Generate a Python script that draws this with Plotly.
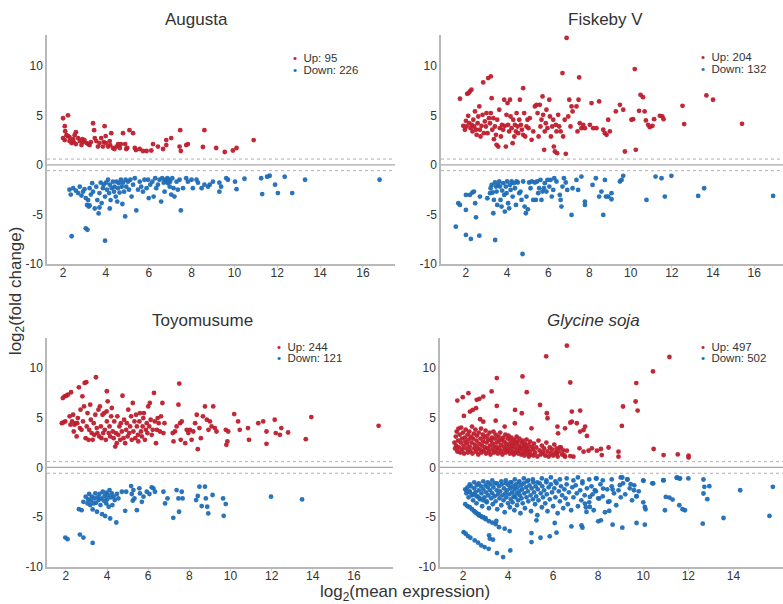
import plotly.graph_objects as go

# ---------------- data ----------------
PANEL_TITLES = ["Augusta", "Fiskeby V", "Toyomusume", "<i>Glycine soja</i>"]
UP_COUNTS = [95, 204, 244, 497]
DOWN_COUNTS = [226, 132, 121, 502]
X_TICKS = [
    [2, 4, 6, 8, 10, 12, 14, 16],
    [2, 4, 6, 8, 10, 12, 14, 16],
    [2, 4, 6, 8, 10, 12, 14, 16],
    [2, 4, 6, 8, 10, 12, 14],
]
Y_TICKS = [-10, -5, 0, 5, 10]
FC_CUTOFF = 0.585  # log2(1.5), dotted threshold lines

AUGUSTA_UP = [
    (2.0, 4.7), (2.23, 5.0), (2.08, 3.9), (2.1, 3.4), (2.16, 3.0), (2.0, 2.7), (2.08, 2.5),
    (2.23, 2.9), (2.3, 2.4), (2.4, 2.2), (2.47, 2.6), (2.54, 3.0), (2.6, 3.3), (2.7, 2.7),
    (2.78, 2.4), (2.86, 2.0), (2.93, 2.3), (3.0, 2.5), (3.1, 2.2), (3.17, 2.1), (3.24, 2.0),
    (3.4, 4.2), (3.45, 3.5), (3.48, 2.7), (3.55, 2.4), (3.63, 1.85), (3.7, 2.2), (3.78, 2.7),
    (3.86, 1.85), (3.94, 3.9), (3.99, 2.9), (4.0, 2.2), (4.1, 1.85), (4.18, 2.4), (4.25, 3.2),
    (4.33, 1.7), (4.4, 1.6), (4.5, 1.85), (4.57, 2.1), (4.65, 1.7), (4.8, 3.2), (4.9, 2.1),
    (4.95, 1.6), (5.1, 3.5), (5.27, 3.2), (5.35, 1.7), (5.58, 1.6), (5.73, 1.4), (5.9, 1.4),
    (6.12, 1.45), (6.2, 2.1), (6.43, 1.85), (6.67, 1.6), (6.82, 2.0), (6.82, 2.5), (7.05, 2.7),
    (7.44, 1.85), (7.47, 3.5), (7.5, 1.4), (7.75, 2.0), (7.83, 2.1), (8.53, 1.8), (8.6, 3.5),
    (9.15, 1.7), (9.55, 1.3), (9.93, 1.45), (10.1, 1.7), (10.9, 2.5),
    (2.3, 2.8), (2.5, 2.3), (2.6, 2.1), (2.9, 2.6), (3.3, 2.3), (3.9, 2.3), (4.2, 2.0),
    (4.7, 2.1), (5.0, 1.7), (5.4, 1.5),
]
AUGUSTA_DOWN = [
    (2.3, -2.5), (2.36, -3.0), (2.47, -2.35), (2.6, -2.6), (2.7, -2.85), (2.78, -2.2),
    (2.86, -3.1), (2.93, -2.7), (3.0, -2.45), (3.06, -3.35), (3.12, -4.05), (3.17, -3.55),
    (3.2, -4.2), (3.24, -2.35), (3.3, -3.0), (3.36, -1.85), (3.4, -2.7), (3.48, -4.4),
    (3.55, -2.2), (3.6, -3.55), (3.66, -4.9), (3.7, -2.85), (3.76, -1.8), (3.8, -3.85),
    (3.86, -2.35), (3.9, -2.0), (3.96, -3.2), (4.0, -1.8), (4.05, -2.5), (4.1, -1.5),
    (4.15, -2.85), (4.18, -2.0), (4.22, -3.55), (4.27, -2.35), (4.33, -1.7), (4.38, -2.7),
    (4.4, -2.2), (4.46, -3.2), (4.5, -1.7), (4.53, -3.7), (4.56, -2.35), (4.6, -1.85),
    (4.64, -2.8), (4.7, -1.5), (4.74, -2.2), (4.77, -3.95), (4.8, -1.8), (4.85, -2.7),
    (4.9, -5.2), (4.92, -1.5), (4.95, -2.2), (5.03, -1.7), (5.08, -2.5), (5.14, -1.5),
    (5.2, -3.2), (5.27, -2.0), (5.35, -1.35), (5.42, -4.6), (5.5, -2.5), (5.58, -1.7),
    (5.65, -2.2), (5.73, -2.7), (5.8, -1.5), (5.9, -2.35), (5.97, -1.5), (6.0, -3.35),
    (6.07, -2.0), (6.17, -1.7), (6.23, -3.2), (6.3, -1.35), (6.35, -2.35), (6.43, -2.0),
    (6.5, -1.5), (6.58, -3.7), (6.63, -1.35), (6.7, -1.8), (6.74, -2.7), (6.77, -1.5),
    (6.82, -1.7), (6.87, -1.35), (6.9, -1.85), (6.95, -1.5), (6.98, -2.2), (7.0, -1.7),
    (7.05, -3.0), (7.1, -1.35), (7.16, -2.35), (7.2, -3.2), (7.3, -1.7), (7.36, -2.5),
    (7.44, -1.5), (7.5, -4.6), (7.6, -2.35), (7.75, -1.35), (7.83, -1.7), (8.0, -1.5),
    (8.06, -2.35), (8.23, -1.5), (8.3, -1.8), (8.47, -2.35), (8.6, -2.0), (8.77, -2.2),
    (8.85, -2.0), (9.0, -1.7), (9.3, -1.8), (9.3, -2.7), (9.38, -2.2), (9.62, -1.35),
    (9.7, -1.5), (10.03, -1.7), (10.1, -2.45), (10.47, -1.4), (11.25, -1.35), (11.3, -2.95),
    (11.53, -1.2), (11.65, -1.1), (11.9, -2.0), (12.03, -2.85), (12.35, -1.2), (12.7, -2.85),
    (13.3, -1.5), (16.78, -1.5), (2.4, -7.2), (3.06, -6.4), (3.14, -6.55), (3.96, -7.65),
    (4.18, -4.4), (3.7, -4.3), (3.24, -4.1),
]

FISKEBY_UP = [
    (1.71, 6.67), (1.87, 3.94), (1.95, 3.54), (2.0, 4.44), (2.03, 3.87), (2.06, 7.17),
    (2.13, 7.24), (2.19, 7.4), (2.27, 7.58), (2.11, 4.95), (2.16, 4.2), (2.23, 3.7),
    (2.28, 4.04), (2.32, 3.37), (2.36, 4.55), (2.4, 3.87), (2.44, 5.39), (2.49, 3.54),
    (2.52, 3.03), (2.57, 4.2), (2.6, 4.88), (2.65, 5.9), (2.68, 3.54), (2.71, 2.86),
    (2.76, 3.94), (2.81, 5.05), (2.84, 8.32), (2.87, 3.2), (2.92, 4.38), (2.97, 3.87),
    (3.0, 5.22), (3.05, 3.2), (3.08, 8.75), (3.12, 4.71), (3.17, 4.2), (3.21, 8.92),
    (3.21, 5.22), (3.25, 6.73), (3.28, 3.54), (3.33, 4.71), (3.36, 2.59), (3.41, 3.87),
    (3.46, 3.03), (3.49, 2.02), (3.52, 4.55), (3.57, 1.85), (3.62, 5.56), (3.65, 3.7),
    (3.7, 2.86), (3.75, 4.04), (3.81, 3.54), (3.86, 6.57), (3.89, 3.94), (3.94, 1.85),
    (3.97, 5.05), (4.02, 6.23), (4.05, 4.04), (4.1, 3.37), (4.14, 6.57), (4.17, 4.88),
    (4.22, 3.7), (4.27, 2.19), (4.3, 4.55), (4.35, 2.86), (4.38, 4.04), (4.43, 3.37),
    (4.46, 5.22), (4.51, 3.87), (4.54, 3.2), (4.59, 4.55), (4.62, 6.57), (4.67, 4.04),
    (4.72, 3.54), (4.78, 7.74), (4.78, 3.03), (4.83, 5.22), (4.88, 2.86), (4.94, 3.87),
    (4.99, 4.55), (5.04, 3.7), (5.1, 4.71), (5.19, 2.53), (5.27, 3.37), (5.35, 5.9),
    (5.43, 6.06), (5.48, 5.22), (5.53, 2.86), (5.59, 6.06), (5.62, 3.87), (5.67, 4.55),
    (5.72, 6.9), (5.75, 5.05), (5.8, 1.52), (5.83, 3.37), (5.88, 4.2), (5.91, 5.56),
    (5.96, 3.7), (6.05, 6.57), (6.08, 4.88), (6.13, 2.86), (6.19, 3.87), (6.24, 4.55),
    (6.27, 1.85), (6.32, 1.35), (6.37, 4.04), (6.4, 3.37), (6.43, 1.18), (6.48, 5.05),
    (6.53, 3.87), (6.6, 3.37), (6.69, 9.26), (6.72, 2.86), (6.8, 4.55), (6.85, 1.11),
    (6.89, 12.8), (6.97, 4.88), (7.02, 6.57), (7.08, 3.87), (7.13, 5.9), (7.18, 5.39),
    (7.37, 5.9), (7.42, 3.37), (7.47, 6.57), (7.5, 8.82), (7.53, 4.2), (7.61, 3.7),
    (7.7, 4.04), (7.78, 3.7), (8.02, 4.04), (8.1, 6.23), (8.18, 3.7), (8.34, 3.7),
    (8.47, 6.4), (8.67, 3.54), (8.75, 3.2), (8.83, 3.03), (8.91, 4.55), (8.99, 3.37),
    (9.28, 5.39), (9.48, 6.06), (9.64, 5.56), (9.72, 1.35), (10.04, 4.55), (10.12, 4.61),
    (10.2, 9.66), (10.25, 1.52), (10.41, 5.45), (10.48, 7.07), (10.6, 6.83), (10.68, 5.39),
    (10.74, 4.48), (10.85, 4.04), (10.93, 3.8), (11.06, 3.94), (11.14, 4.61), (11.42, 4.95),
    (11.54, 4.88), (11.6, 4.61), (12.52, 5.96), (12.6, 4.11), (13.68, 7.0), (14.0, 6.57),
    (15.41, 4.14),
]
FISKEBY_DOWN = [
    (1.51, -6.23), (1.63, -3.87), (1.71, -4.04), (2.0, -3.03), (2.0, -4.55), (2.0, -7.07),
    (2.19, -3.03), (2.24, -7.47), (2.32, -2.79), (2.39, -2.69), (2.45, -3.87), (2.49, -5.29),
    (2.65, -7.14), (2.68, -3.2), (3.04, -3.37), (3.17, -2.86), (3.2, -2.36), (3.25, -2.02),
    (3.3, -2.79), (3.33, -4.88), (3.36, -3.54), (3.41, -1.78), (3.42, -7.58), (3.46, -2.19),
    (3.49, -2.69), (3.52, -4.04), (3.57, -2.02), (3.62, -1.68), (3.65, -2.19), (3.68, -3.54),
    (3.73, -4.21), (3.76, -2.59), (3.81, -1.85), (3.86, -3.03), (3.89, -4.71), (3.94, -2.19),
    (3.97, -2.86), (4.0, -1.68), (4.05, -3.87), (4.1, -4.38), (4.14, -2.02), (4.17, -2.53),
    (4.22, -1.68), (4.27, -3.2), (4.33, -1.85), (4.38, -2.36), (4.43, -4.04), (4.46, -1.68),
    (4.52, -1.78), (4.59, -2.86), (4.65, -2.69), (4.7, -3.54), (4.75, -8.99), (4.78, -1.68),
    (4.85, -4.21), (4.91, -4.88), (4.94, -3.2), (5.01, -4.48), (5.07, -1.78), (5.14, -2.36),
    (5.2, -1.68), (5.27, -3.54), (5.35, -1.78), (5.4, -3.54), (5.46, -1.68), (5.51, -2.86),
    (5.56, -2.36), (5.62, -1.52), (5.67, -3.54), (5.72, -2.69), (5.79, -2.36), (5.83, -1.85),
    (5.91, -2.69), (5.96, -1.52), (6.05, -2.19), (6.11, -1.52), (6.17, -3.2), (6.24, -2.53),
    (6.29, -1.35), (6.4, -1.68), (6.56, -3.03), (6.6, -3.54), (6.64, -4.21), (6.69, -2.19),
    (6.76, -1.35), (6.85, -1.78), (6.92, -2.53), (7.13, -5.05), (7.18, -2.36), (7.37, -1.52),
    (7.45, -2.53), (7.61, -1.18), (7.78, -3.7), (7.78, -4.04), (8.15, -2.02), (8.31, -1.35),
    (8.47, -3.2), (8.58, -2.69), (8.67, -5.05), (8.75, -1.52), (8.8, -3.2), (8.91, -3.2),
    (9.07, -3.47), (9.07, -2.86), (9.48, -1.68), (9.56, -1.52), (9.64, -1.11), (10.77, -3.54),
    (11.21, -1.18), (11.5, -1.35), (11.66, -3.2), (11.98, -1.11), (13.28, -3.13),
    (13.57, -2.36), (16.92, -3.13),
]

TOYOMUSUME_UP = [
    (1.8, 4.45), (1.88, 4.52), (1.97, 4.62), (1.85, 6.97), (1.93, 7.14), (2.02, 7.2),
    (2.1, 7.31), (2.25, 7.55), (2.18, 5.13), (2.22, 4.29), (2.3, 4.62), (2.35, 5.29),
    (2.38, 3.61), (2.42, 4.29), (2.47, 4.45), (2.52, 3.11), (2.55, 4.45), (2.58, 4.96),
    (2.63, 8.05), (2.68, 3.95), (2.71, 5.8), (2.76, 3.78), (2.8, 7.14), (2.83, 4.62),
    (2.88, 6.13), (2.91, 8.49), (2.96, 2.94), (2.99, 8.56), (3.01, 4.12), (3.05, 5.46),
    (3.1, 2.77), (3.13, 3.78), (3.18, 6.3), (3.21, 4.79), (3.25, 3.45), (3.3, 2.77),
    (3.35, 4.45), (3.38, 3.28), (3.43, 5.29), (3.46, 9.06), (3.5, 3.95), (3.53, 3.45),
    (3.58, 5.8), (3.62, 3.11), (3.65, 6.13), (3.7, 4.12), (3.73, 2.94), (3.78, 5.29),
    (3.81, 3.45), (3.86, 5.46), (3.89, 3.78), (3.94, 2.77), (3.98, 5.63), (3.99, 7.65),
    (3.99, 4.62), (4.03, 6.64), (4.08, 3.45), (4.12, 4.12), (4.15, 3.11), (4.2, 5.13),
    (4.23, 5.97), (4.28, 3.61), (4.32, 2.94), (4.35, 4.62), (4.4, 2.1), (4.43, 3.45),
    (4.47, 2.44), (4.5, 5.13), (4.55, 3.28), (4.6, 4.12), (4.64, 2.77), (4.67, 4.45),
    (4.72, 3.61), (4.75, 7.2), (4.8, 2.94), (4.83, 4.79), (4.88, 2.44), (4.93, 3.78),
    (4.96, 4.45), (5.0, 3.11), (5.03, 5.8), (5.08, 3.45), (5.12, 4.12), (5.17, 5.13),
    (5.2, 2.77), (5.25, 6.47), (5.28, 3.61), (5.33, 4.62), (5.37, 2.94), (5.41, 5.29),
    (5.45, 4.12), (5.5, 3.28), (5.52, 2.61), (5.57, 4.62), (5.6, 5.46), (5.65, 3.61),
    (5.69, 3.11), (5.73, 4.12), (5.76, 4.96), (5.79, 5.46), (5.84, 2.77), (5.89, 3.78),
    (5.93, 4.45), (5.96, 3.45), (6.0, 6.13), (6.05, 4.12), (6.08, 6.47), (6.12, 4.79),
    (6.17, 3.28), (6.22, 3.78), (6.28, 7.48), (6.32, 4.62), (6.38, 2.44), (6.42, 3.78),
    (6.46, 4.96), (6.51, 4.45), (6.57, 3.61), (6.62, 5.13), (6.69, 6.47), (6.74, 3.45),
    (6.79, 4.45), (7.19, 3.45), (7.23, 2.61), (7.3, 3.61), (7.38, 4.12), (7.47, 6.3),
    (7.51, 8.42), (7.55, 4.45), (7.58, 2.77), (7.63, 4.62), (7.8, 2.44), (7.87, 3.78),
    (7.95, 3.45), (8.03, 3.78), (8.11, 2.77), (8.19, 3.61), (8.28, 4.45), (8.36, 5.29),
    (8.41, 1.83), (8.49, 3.95), (8.56, 2.94), (8.66, 5.13), (8.76, 6.13), (8.85, 4.79),
    (8.93, 3.78), (9.0, 4.62), (9.08, 4.12), (9.16, 6.13), (9.24, 3.95), (9.32, 3.61),
    (9.77, 3.78), (9.8, 2.27), (9.85, 2.61), (9.89, 3.61), (10.18, 5.36), (10.37, 4.62),
    (10.45, 3.78), (10.85, 3.95), (10.9, 2.77), (11.35, 4.45), (11.59, 4.62), (11.75, 3.61),
    (11.75, 2.37), (12.15, 4.79), (12.2, 3.45), (12.4, 3.28), (12.47, 3.95), (12.8, 3.51),
    (13.66, 2.84), (13.93, 5.06), (17.2, 4.18),
]
TOYOMUSUME_DOWN = [
    (1.97, -7.04), (2.08, -7.21), (2.68, -6.74), (2.85, -7.04), (3.3, -7.58), (2.63, -4.19),
    (2.76, -4.29), (2.85, -3.45), (2.96, -2.94), (3.05, -3.61), (3.08, -3.21), (3.13, -2.67),
    (3.18, -3.78), (3.21, -3.34), (3.26, -2.94), (3.3, -4.22), (3.35, -3.61), (3.38, -3.11),
    (3.43, -2.61), (3.46, -3.55), (3.51, -4.45), (3.54, -3.01), (3.59, -3.28), (3.63, -2.67),
    (3.68, -3.78), (3.71, -3.11), (3.76, -4.69), (3.79, -2.44), (3.84, -3.34), (3.88, -2.87),
    (3.91, -4.89), (3.96, -3.61), (3.97, -2.54), (4.0, -3.21), (4.03, -2.77), (4.08, -3.95),
    (4.12, -2.27), (4.15, -5.13), (4.18, -3.01), (4.23, -2.61), (4.26, -3.78), (4.32, -2.94),
    (4.37, -3.28), (4.45, -5.53), (4.48, -2.67), (4.55, -3.11), (4.72, -2.44), (4.88, -4.36),
    (4.93, -2.44), (5.17, -1.87), (5.2, -2.67), (5.25, -3.34), (5.28, -2.27), (5.33, -3.11),
    (5.45, -4.29), (5.57, -2.1), (5.6, -2.61), (5.69, -3.45), (5.77, -2.94), (5.93, -2.44),
    (6.06, -2.67), (6.17, -2.0), (6.25, -2.1), (6.33, -2.44), (6.74, -2.44), (6.82, -3.61),
    (6.94, -3.11), (7.22, -5.06), (7.38, -2.27), (7.47, -3.11), (7.5, -4.45), (7.63, -2.44),
    (7.67, -3.11), (8.33, -3.28), (8.41, -2.87), (8.49, -1.93), (8.6, -3.88), (8.76, -1.93),
    (8.8, -3.11), (8.87, -3.95), (8.92, -4.62), (9.13, -2.77), (9.64, -3.11), (9.67, -4.86),
    (9.77, -3.68), (11.97, -2.94), (13.48, -3.21),
]

GLYCINE_UP = [
    # dense low-fold cluster
    (1.62, 2.5), (1.65, 1.9), (1.68, 3.1), (1.7, 2.2), (1.72, 3.6), (1.75, 1.6), (1.78, 2.7),
    (1.8, 3.9), (1.82, 2.0), (1.85, 3.3), (1.88, 1.5), (1.9, 2.5), (1.92, 4.0), (1.95, 2.9),
    (1.97, 1.8), (2.0, 3.5), (2.02, 2.2), (2.05, 1.4), (2.08, 3.0), (2.1, 2.6), (2.12, 3.8),
    (2.15, 1.9), (2.18, 2.4), (2.2, 3.3), (2.22, 1.5), (2.25, 2.8), (2.28, 3.6), (2.3, 2.1),
    (2.32, 1.7), (2.35, 3.1), (2.38, 2.5), (2.4, 4.1), (2.42, 1.4), (2.45, 2.9), (2.48, 3.4),
    (2.5, 1.9), (2.52, 2.3), (2.55, 3.8), (2.58, 1.6), (2.6, 2.7), (2.62, 3.2), (2.65, 2.0),
    (2.68, 1.3), (2.7, 3.5), (2.72, 2.4), (2.75, 1.8), (2.78, 2.9), (2.8, 3.9), (2.82, 1.5),
    (2.85, 2.2), (2.88, 3.3), (2.9, 2.6), (2.92, 1.7), (2.95, 3.0), (2.98, 2.0), (3.0, 3.7),
    (3.02, 1.4), (3.05, 2.5), (3.08, 3.2), (3.1, 1.9), (3.12, 2.8), (3.15, 1.6), (3.18, 3.5),
    (3.2, 2.2), (3.22, 1.3), (3.25, 2.7), (3.28, 3.0), (3.3, 1.8), (3.32, 2.4), (3.35, 3.6),
    (3.38, 1.5), (3.4, 2.1), (3.42, 2.9), (3.45, 3.3), (3.48, 1.7), (3.5, 2.5), (3.52, 2.0),
    (3.55, 1.4), (3.58, 3.1), (3.6, 2.7), (3.62, 1.9), (3.65, 3.5), (3.68, 2.3), (3.7, 1.6),
    (3.72, 2.8), (3.75, 1.3), (3.78, 3.0), (3.8, 2.1), (3.82, 2.6), (3.85, 1.8), (3.88, 3.3),
    (3.9, 1.5), (3.92, 2.4), (3.95, 2.0), (3.98, 2.9), (4.0, 1.7), (4.02, 3.2), (4.05, 2.3),
    (4.08, 1.4), (4.1, 2.7), (4.12, 1.9), (4.15, 3.0), (4.18, 2.2), (4.2, 1.6), (4.22, 2.5),
    (4.25, 1.3), (4.28, 2.8), (4.3, 2.0), (4.32, 1.5), (4.35, 2.4), (4.38, 3.1), (4.4, 1.8),
    (4.42, 2.6), (4.45, 1.4), (4.48, 2.2), (4.5, 2.9), (4.52, 1.7), (4.55, 2.0), (4.58, 1.3),
    (4.6, 2.5), (4.62, 1.9), (4.65, 2.7), (4.68, 1.5), (4.7, 2.2), (4.72, 1.2), (4.75, 2.4),
    (4.78, 1.7), (4.8, 2.0), (4.82, 2.8), (4.85, 1.4), (4.88, 1.9), (4.9, 2.3), (4.92, 1.1),
    (4.95, 1.6), (4.98, 2.6), (5.0, 1.3), (5.05, 2.1), (5.1, 1.8), (5.12, 1.2), (5.15, 2.4),
    (5.2, 1.5), (5.25, 2.0), (5.3, 1.1), (5.35, 2.7), (5.4, 1.7), (5.45, 1.3), (5.5, 2.2),
    (5.55, 1.5), (5.6, 1.9), (5.65, 1.2), (5.7, 2.5), (5.75, 1.6), (5.8, 1.1), (5.85, 2.0),
    (5.9, 1.4), (5.95, 1.8), (6.0, 1.2), (6.05, 2.3), (6.1, 1.5), (6.15, 1.9), (6.2, 1.1),
    (6.25, 1.6), (6.3, 2.0), (6.4, 1.3), (6.45, 1.7),
    # sparse tail
    (6.5, 1.2), (6.53, 1.08), (6.61, 1.68), (6.76, 1.14), (6.9, 1.08), (7.17, 1.92),
    (7.35, 1.58), (7.57, 1.68), (7.72, 1.92), (7.94, 1.68), (8.12, 1.85), (8.16, 1.24),
    (8.46, 2.0), (8.9, 1.58), (8.9, 1.08), (10.46, 1.85), (10.9, 1.24), (11.53, 1.31),
    (12.01, 1.18), (12.01, 1.0), (6.34, 2.02), (6.16, 1.34),
    # high-fold points
    (6.61, 12.23), (5.69, 11.16), (11.16, 11.09), (10.43, 9.64), (3.5, 8.97), (4.64, 9.14),
    (6.76, 8.53), (9.69, 8.47), (4.83, 7.56), (3.27, 7.63), (1.75, 6.72), (1.99, 7.06),
    (2.24, 7.46), (2.61, 6.79), (2.73, 6.89), (2.9, 7.12), (3.5, 6.18), (4.31, 5.78),
    (4.61, 5.44), (5.42, 6.28), (5.72, 5.44), (5.75, 4.94), (6.83, 5.61), (7.2, 5.71),
    (6.76, 4.5), (7.05, 4.44), (9.1, 6.12), (9.66, 6.62), (9.75, 5.71), (9.05, 4.17),
    (2.04, 5.17), (2.31, 5.61), (2.43, 5.78), (2.58, 5.95), (2.76, 4.84), (2.9, 4.6),
    (6.19, 4.1), (7.42, 4.1), (6.53, 3.93), (6.83, 4.6), (7.5, 3.16), (7.35, 3.76),
    (7.2, 3.6), (4.3, 4.44), (3.85, 4.1), (5.04, 3.93), (3.45, 4.7), (6.22, 3.43),
]
GLYCINE_DOWN = [
    # upper band
    (2.3, -1.7), (2.5, -1.5), (2.7, -1.6), (2.9, -1.4), (3.1, -1.5), (3.3, -1.3), (3.5, -1.6),
    (3.7, -1.4), (3.9, -1.3), (4.1, -1.5), (4.3, -1.2), (4.5, -1.4), (4.7, -1.1), (4.9, -1.3),
    (5.1, -1.2), (5.3, -1.5), (5.5, -1.1), (5.7, -1.3), (5.9, -1.0), (6.1, -1.4), (6.3, -1.2),
    (6.6, -1.1), (6.9, -1.3), (7.1, -1.0), (7.3, -1.4), (7.6, -1.2), (7.9, -1.1), (8.2, -1.3),
    (8.6, -1.2), (9.0, -1.0), (9.3, -1.2), (10.0, -1.3), (10.4, -1.6), (10.9, -1.3),
    (11.5, -1.0), (11.6, -1.1), (12.0, -1.1),
    # dense body
    (2.1, -2.2), (2.15, -2.6), (2.2, -2.0), (2.25, -3.0), (2.3, -2.4), (2.35, -1.9), (2.4, -2.8),
    (2.45, -3.3), (2.5, -2.1), (2.55, -2.5), (2.6, -3.6), (2.62, -1.8), (2.65, -2.9), (2.7, -2.3),
    (2.75, -3.2), (2.8, -1.9), (2.82, -2.6), (2.85, -3.9), (2.9, -2.2), (2.95, -3.0), (3.0, -1.8),
    (3.02, -2.5), (3.05, -3.4), (3.1, -2.0), (3.12, -2.8), (3.15, -4.1), (3.2, -2.3), (3.22, -1.7),
    (3.25, -3.1), (3.3, -2.6), (3.32, -3.7), (3.35, -2.0), (3.4, -2.9), (3.42, -1.6), (3.45, -3.4),
    (3.5, -2.3), (3.52, -4.2), (3.55, -2.7), (3.6, -1.9), (3.62, -3.1), (3.65, -2.4), (3.7, -3.8),
    (3.72, -1.7), (3.75, -2.8), (3.8, -3.3), (3.82, -2.1), (3.85, -4.5), (3.88, -2.6), (3.9, -1.6),
    (3.92, -3.0), (3.95, -2.3), (4.0, -3.6), (4.02, -1.8), (4.05, -2.7), (4.08, -4.0), (4.1, -2.1),
    (4.12, -3.2), (4.15, -1.5), (4.18, -2.5), (4.2, -3.5), (4.22, -1.9), (4.25, -2.9), (4.28, -4.3),
    (4.3, -2.2), (4.32, -3.0), (4.35, -1.7), (4.38, -2.6), (4.4, -3.8), (4.42, -2.0), (4.45, -3.3),
    (4.48, -1.5), (4.5, -2.4), (4.52, -2.8), (4.55, -4.6), (4.58, -1.8), (4.6, -3.1), (4.62, -2.2),
    (4.65, -3.6), (4.7, -1.6), (4.72, -2.6), (4.75, -4.1), (4.8, -2.0), (4.82, -3.0), (4.85, -1.4),
    (4.88, -2.4), (4.9, -3.4), (4.95, -1.8), (5.0, -2.8), (5.02, -4.4), (5.05, -2.1), (5.1, -3.2),
    (5.12, -1.5), (5.15, -2.5), (5.2, -3.7), (5.22, -1.9), (5.25, -2.9), (5.3, -4.8), (5.32, -2.2),
    (5.35, -3.3), (5.4, -1.6), (5.45, -2.6), (5.5, -4.0), (5.52, -1.9), (5.55, -3.0), (5.6, -2.3),
    (5.65, -3.6), (5.7, -1.5), (5.72, -2.7), (5.75, -4.4), (5.8, -2.0), (5.85, -3.2), (5.9, -1.7),
    (5.95, -2.5), (6.0, -3.9), (6.05, -2.1), (6.1, -3.0), (6.15, -1.6), (6.2, -4.6), (6.25, -2.4),
    (6.3, -3.4), (6.35, -1.9), (6.4, -2.8), (6.45, -4.1), (6.5, -2.2), (6.55, -3.1), (6.6, -1.7),
    (6.65, -3.7), (6.7, -2.5), (6.8, -4.3), (6.85, -2.0), (6.9, -3.0), (7.0, -1.8), (7.05, -2.6),
    (7.1, -3.9), (7.2, -2.3), (7.25, -3.3), (7.3, -1.6), (7.4, -2.8), (7.45, -4.0), (7.5, -2.1),
    (7.6, -3.5), (7.7, -1.9), (7.75, -2.7), (7.8, -4.3), (7.9, -2.4), (8.0, -3.1), (8.1, -1.7),
    (8.2, -2.9), (8.3, -4.5), (8.4, -2.2), (8.5, -3.4), (8.6, -1.9), (8.7, -2.6), (8.8, -3.8),
    (8.9, -2.3), (9.0, -3.0), (9.1, -1.6), (9.2, -2.7), (9.4, -2.1), (9.5, -3.3), (9.6, -1.8),
    (9.7, -2.9), (9.8, -2.4), (10.0, -3.5),
    # low-count diagonal rows
    (2.15, -2.3), (2.3, -2.5), (2.45, -2.7), (2.6, -2.9), (2.75, -3.1), (2.9, -3.3), (3.05, -3.5),
    (2.1, -3.7), (2.2, -3.9), (2.3, -4.0), (2.4, -4.2), (2.5, -4.4), (2.6, -4.6), (2.7, -4.7),
    (2.8, -4.9), (2.9, -5.0), (3.0, -5.1), (2.55, -4.5), (2.7, -4.8), (2.85, -5.0), (3.0, -5.2),
    (3.15, -5.4), (3.3, -5.55), (3.45, -5.7), (2.03, -6.5), (2.12, -6.66), (2.22, -6.89),
    (2.33, -7.06), (2.52, -7.33), (2.67, -7.56), (2.81, -7.83), (2.96, -8.0), (3.14, -8.17),
    (3.51, -8.6), (3.78, -9.0), (4.1, -8.34), (3.16, -6.82), (3.19, -7.16), (3.33, -7.26),
    (3.85, -6.15), (4.07, -6.39), (3.48, -5.38), (3.6, -6.0),
    # scattered points
    (5.04, -6.59), (5.04, -7.5), (5.44, -7.06), (5.85, -6.92), (6.15, -6.55), (5.26, -5.31),
    (6.07, -5.58), (6.81, -5.92), (7.26, -5.82), (7.3, -6.05), (8.0, -5.41), (8.12, -5.31),
    (8.64, -5.75), (9.07, -6.05), (9.7, -5.58), (10.07, -5.75), (12.64, -5.65), (13.56, -5.08),
    (15.6, -4.87), (14.3, -2.29), (15.75, -1.95), (12.67, -1.21), (12.71, -1.95), (12.93, -1.88),
    (12.67, -2.62), (12.84, -3.19), (11.48, -1.04), (11.63, -1.11), (10.89, -1.28), (11.0, -2.96),
    (11.16, -3.03), (11.3, -3.23), (10.96, -4.3), (11.6, -3.8), (11.74, -4.2), (11.85, -4.3),
    (10.44, -1.61), (10.01, -1.34), (10.07, -3.97), (10.1, -4.2), (9.7, -2.89), (9.59, -2.29),
    (9.44, -1.68), (9.29, -1.21), (9.07, -1.01), (8.96, -1.78), (8.64, -2.22), (8.44, -3.46),
    (8.49, -4.37), (8.22, -2.12), (7.93, -1.11), (7.85, -2.29), (8.04, -3.13), (7.63, -2.96),
    (7.63, -3.97), (7.48, -4.47), (7.41, -3.63),
]

UP_SETS = [AUGUSTA_UP, FISKEBY_UP, TOYOMUSUME_UP, GLYCINE_UP]
DOWN_SETS = [AUGUSTA_DOWN, FISKEBY_DOWN, TOYOMUSUME_DOWN, GLYCINE_DOWN]

# ---------------- layout / style ----------------
W, H = 783, 604
RED = "#BE1E2D"
BLUE = "#1D6DB6"
FONT = "Liberation Sans, Arial, sans-serif"
TEXT = "#333333"
AXIS = "#b8b8b8"

X_DOMAINS = [(47 / W, 395 / W), (441 / W, 1.0), (47 / W, 393 / W), (440 / W, 1.0)]
Y_DOMAINS = [(1 - 264 / H, 1 - 35 / H), (1 - 264 / H, 1 - 35 / H),
             (1 - 567 / H, 1 - 338 / H), (1 - 567 / H, 1 - 338 / H)]
X_RANGES = [(1.25, 17.5), (0.79, 17.4), (1.08, 17.9), (0.98, 16.2)]
Y_RANGES = [(-10, 13.1), (-10, 13.1), (-10, 13.0), (-10, 13.0)]
TITLE_POS = [(196, 20), (605, 20), (202, 320), (593, 320)]
LEGEND_POS = [  # left edge of legend entry, first-row y, second-row y (pixels)
    (292, 58, 70), (700, 57, 69), (276, 347, 358), (700, 347, 358)
]

fig = go.Figure()
layout = dict(
    width=W, height=H, margin=dict(l=0, r=0, t=0, b=0),
    paper_bgcolor="white", plot_bgcolor="white", showlegend=False,
    font=dict(family=FONT, color=TEXT, size=12),
)
annotations = []
shapes = []

for i in range(4):
    n = "" if i == 0 else str(i + 1)
    xa, ya = "x" + n, "y" + n
    for pts, color, label in ((UP_SETS[i], RED, "Up"), (DOWN_SETS[i], BLUE, "Down")):
        fig.add_trace(go.Scatter(
            x=[p[0] for p in pts], y=[p[1] for p in pts], mode="markers",
            name=label, xaxis=xa, yaxis=ya,
            marker=dict(size=4.8, color=color, opacity=0.95, line=dict(width=0)),
            hoverinfo="x+y",
        ))
    layout["xaxis" + n] = dict(
        domain=list(X_DOMAINS[i]), range=list(X_RANGES[i]), anchor=ya,
        showgrid=False, zeroline=False, showline=True, linecolor=AXIS, linewidth=1.5,
        ticks="outside", ticklen=2, tickcolor="#d0d0d0", tickwidth=1,
        ticklabelstandoff=-5,
        tickvals=X_TICKS[i], ticktext=[str(v) for v in X_TICKS[i]],
        tickfont=dict(size=12, color=TEXT, family=FONT), automargin=False,
    )
    layout["yaxis" + n] = dict(
        domain=list(Y_DOMAINS[i]), range=list(Y_RANGES[i]), anchor=xa,
        showgrid=False, zeroline=False, showline=True, linecolor=AXIS, linewidth=1.5,
        ticks="", tickvals=Y_TICKS, ticktext=[str(v) for v in Y_TICKS],
        tickfont=dict(size=12, color=TEXT, family=FONT), automargin=False,
    )
    xdom = xa + " domain"
    shapes.append(dict(type="line", xref=xdom, yref=ya, x0=0, x1=1, y0=0, y1=0,
                       line=dict(color="#a8a8a8", width=1.3), layer="below"))
    for yv in (FC_CUTOFF, -FC_CUTOFF):
        shapes.append(dict(type="line", xref=xdom, yref=ya, x0=0, x1=1, y0=yv, y1=yv,
                           line=dict(color="#b0b0b0", width=1, dash="dot"), layer="below"))
    tx, ty = TITLE_POS[i]
    annotations.append(dict(text=PANEL_TITLES[i], x=tx / W, y=1 - ty / H, xref="paper", yref="paper",
                            showarrow=False, xanchor="center", yanchor="middle",
                            font=dict(size=17, color=TEXT, family=FONT)))
    lx, y1, y2 = LEGEND_POS[i]
    for yy, color, txt in ((y1, RED, f"Up: {UP_COUNTS[i]}"), (y2, BLUE, f"Down: {DOWN_COUNTS[i]}")):
        annotations.append(dict(
            text=f"<span style='color:{color}'>\u2022</span>\u00a0\u00a0{txt}",
            x=lx / W, y=1 - yy / H, xref="paper", yref="paper",
            showarrow=False, xanchor="left", yanchor="middle", borderpad=0,
            font=dict(size=11.5, color=TEXT, family=FONT)))

annotations.append(dict(text="log<sub>2</sub>(fold change)", x=17 / W, y=0.518, xref="paper", yref="paper",
                        showarrow=False, textangle=-90, xanchor="center", yanchor="middle",
                        font=dict(size=17, color=TEXT, family=FONT)))
annotations.append(dict(text="log<sub>2</sub>(mean expression)", x=405 / W, y=1 - 593 / H,
                        xref="paper", yref="paper", showarrow=False, xanchor="center", yanchor="middle",
                        borderpad=0, font=dict(size=17, color=TEXT, family=FONT)))

layout["annotations"] = annotations
layout["shapes"] = shapes
fig.update_layout(**layout)
fig.write_html(
    "out.html",
    config={"displayModeBar": False},
    post_script="document.body.style.margin='0';document.body.style.overflow='hidden';",
)
